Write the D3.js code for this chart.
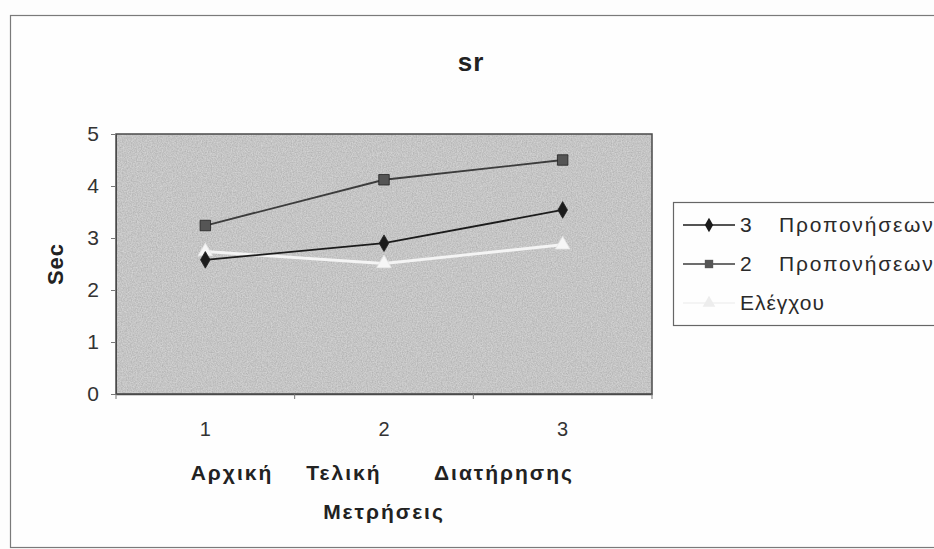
<!DOCTYPE html>
<html>
<head>
<meta charset="utf-8">
<script src="https://cdn.jsdelivr.net/npm/d3@7"></script>
<style>
  html, body { margin: 0; padding: 0; background: #fdfdfd; }
  svg { display: block; font-family: Arial, "Liberation Sans", sans-serif; }
</style>
</head>
<body>
<svg id="chart" width="934" height="549"></svg>
<script>
// Measurement sessions (x categories) and their labels
const categories = ["1", "2", "3"];
const sessionNames = ["Αρχική", "Τελική", "Διατήρησης"];
const xTitle = "Μετρήσεις";
const yTitle = "Sec";
const chartTitle = "sr";
const yTicks = [0, 1, 2, 3, 4, 5];

// Series values (seconds)
const seriesKeys = ["3", "2", ""];
const seriesNames = ["Προπονήσεων", "Προπονήσεων", "Ελέγχου"];
const threeSessions = [2.58, 2.90, 3.54];
const twoSessions = [3.24, 4.12, 4.50];
const control = [2.74, 2.51, 2.87];

const series = [
  { key: seriesKeys[0], name: seriesNames[0], values: threeSessions, line: "#1b1b1b", fill: "#1b1b1b", symbol: d3.symbolDiamond, size: 80 },
  { key: seriesKeys[1], name: seriesNames[1], values: twoSessions, line: "#3c3c3c", fill: "#555", symbol: d3.symbolSquare, size: 110 },
  { key: seriesKeys[2], name: seriesNames[2], values: control, line: "#f4f4f4", fill: "#f6f6f6", symbol: d3.symbolTriangle, size: 90 }
];

const svg = d3.select("#chart");
const FONT = "Arial, 'Liberation Sans', sans-serif";

// Outer chart frame
svg.append("rect")
  .attr("x", 10.5).attr("y", 15.5)
  .attr("width", 940).attr("height", 532)
  .attr("fill", "#fefefe").attr("stroke", "#7a7a7a").attr("stroke-width", 1.2);

const plot = { left: 116, right: 652, top: 134, bottom: 394 };

const x = d3.scaleBand().domain(categories).range([plot.left, plot.right]);
const y = d3.scaleLinear().domain([0, 5]).range([plot.bottom, plot.top]);

// Grainy grey plot background
const defs = svg.append("defs");
const f = defs.append("filter").attr("id", "grain").attr("x", 0).attr("y", 0).attr("width", 1).attr("height", 1);
f.append("feTurbulence").attr("type", "fractalNoise").attr("baseFrequency", 0.8).attr("numOctaves", 2).attr("seed", 3).attr("result", "noise");
f.append("feColorMatrix").attr("in", "noise").attr("type", "matrix")
  .attr("values", "1.4 0 0 0 -0.2  1.4 0 0 0 -0.2  1.4 0 0 0 -0.2  0 0 0 0 0.22").attr("result", "g");
f.append("feComposite").attr("in", "g").attr("in2", "SourceGraphic").attr("operator", "in").attr("result", "gm");
f.append("feMerge").call(m => { m.append("feMergeNode").attr("in", "SourceGraphic"); m.append("feMergeNode").attr("in", "gm"); });

svg.append("rect")
  .attr("x", plot.left).attr("y", plot.top)
  .attr("width", plot.right - plot.left).attr("height", plot.bottom - plot.top)
  .attr("fill", "#c8c8c8").attr("filter", "url(#grain)");
svg.append("rect")
  .attr("x", plot.left).attr("y", plot.top)
  .attr("width", plot.right - plot.left).attr("height", plot.bottom - plot.top)
  .attr("fill", "none").attr("stroke", "#4a4a4a").attr("stroke-width", 1.5);

// Y axis
const yAxis = svg.append("g")
  .attr("transform", `translate(${plot.left},0)`)
  .call(d3.axisLeft(y).tickValues(yTicks).tickFormat(d3.format("d")).tickSize(5).tickPadding(12));
yAxis.select(".domain").attr("stroke", "#4a4a4a");
yAxis.selectAll(".tick line").attr("stroke", "#777");
yAxis.selectAll(".tick text").attr("font-size", 21).attr("fill", "#333").attr("font-family", FONT);

// X axis: ticks at band boundaries, labels at band centres
const xAxis = svg.append("g")
  .attr("transform", `translate(0,${plot.bottom})`)
  .call(d3.axisBottom(x).tickSize(0).tickPadding(28));
xAxis.select(".domain").attr("stroke", "#4a4a4a").attr("stroke-width", 1.5);
xAxis.selectAll(".tick text").attr("font-size", 20).attr("fill", "#333").attr("font-family", FONT);
const bounds = [plot.left].concat(categories.map(c => x(c) + x.bandwidth()));
svg.append("g").selectAll("line").data(bounds).join("line")
  .attr("x1", d => d).attr("x2", d => d)
  .attr("y1", plot.bottom).attr("y2", plot.bottom + 5)
  .attr("stroke", "#777");

// Session names under the ticks, axis title below
svg.append("g").selectAll("text").data(sessionNames).join("text")
  .attr("x", (d, i) => [232, 344, 504][i])
  .attr("y", 480)
  .attr("text-anchor", "middle")
  .attr("font-size", 21).attr("font-weight", "bold").attr("fill", "#222")
  .attr("letter-spacing", 2)
  .text(d => d);
svg.append("text")
  .attr("x", 384).attr("y", 519)
  .attr("text-anchor", "middle")
  .attr("font-size", 21).attr("font-weight", "bold").attr("fill", "#222")
  .attr("letter-spacing", 2)
  .text(xTitle);

// Y title
svg.append("text")
  .attr("transform", "translate(63,264) rotate(-90)")
  .attr("text-anchor", "middle")
  .attr("font-size", 22).attr("font-weight", "bold").attr("fill", "#222")
  .attr("letter-spacing", 1)
  .text(yTitle);

// Chart title
svg.append("text")
  .attr("x", 471).attr("y", 71)
  .attr("text-anchor", "middle")
  .attr("font-size", 26).attr("font-weight", "bold").attr("fill", "#222")
  .attr("letter-spacing", 1)
  .text(chartTitle);

// Series lines and markers
const cx = c => x(c) + x.bandwidth() / 2;
const line = d3.line().x((d, i) => cx(categories[i])).y(d => y(d));

// Draw the control series first so it sits beneath the others
[2, 1, 0].forEach(si => {
  const s = series[si];
  const g = svg.append("g");
  g.append("path").attr("d", line(s.values))
    .attr("fill", "none").attr("stroke", s.line).attr("stroke-width", si === 2 ? 2.8 : 1.8);
  g.selectAll("path.m").data(s.values).join("path").attr("class", "m")
    .attr("transform", (d, i) => `translate(${cx(categories[i])},${y(d)})`)
    .attr("d", d3.symbol(s.symbol, s.size))
    .attr("fill", s.fill)
    .attr("stroke", si === 2 ? "#e8e8e8" : "#222").attr("stroke-width", 0.8);
});

// Legend
const lg = svg.append("g");
lg.append("rect")
  .attr("x", 673.5).attr("y", 202.5).attr("width", 300).attr("height", 123)
  .attr("fill", "#fefefe").attr("stroke", "#666").attr("stroke-width", 1.2);
series.forEach((s, i) => {
  const yy = 225 + i * 39;
  lg.append("line").attr("x1", 683).attr("x2", 735).attr("y1", yy).attr("y2", yy)
    .attr("stroke", i === 2 ? "#f0f0f0" : s.line).attr("stroke-width", 1.6);
  lg.append("path").attr("transform", `translate(709,${yy})`)
    .attr("d", d3.symbol(s.symbol, i === 0 ? 60 : 70))
    .attr("fill", i === 2 ? "#ededed" : s.fill);
  if (s.key) {
    lg.append("text").attr("x", 740).attr("y", yy + 7)
      .attr("font-size", 21).attr("fill", "#2a2a2a").attr("font-family", FONT)
      .text(s.key);
  }
  lg.append("text").attr("x", s.key ? 779 : 740).attr("y", yy + 7)
    .attr("font-size", 21).attr("fill", "#2a2a2a").attr("font-family", FONT)
    .attr("letter-spacing", s.key ? 1.8 : 1)
    .text(s.name);
});
</script>
</body>
</html>
